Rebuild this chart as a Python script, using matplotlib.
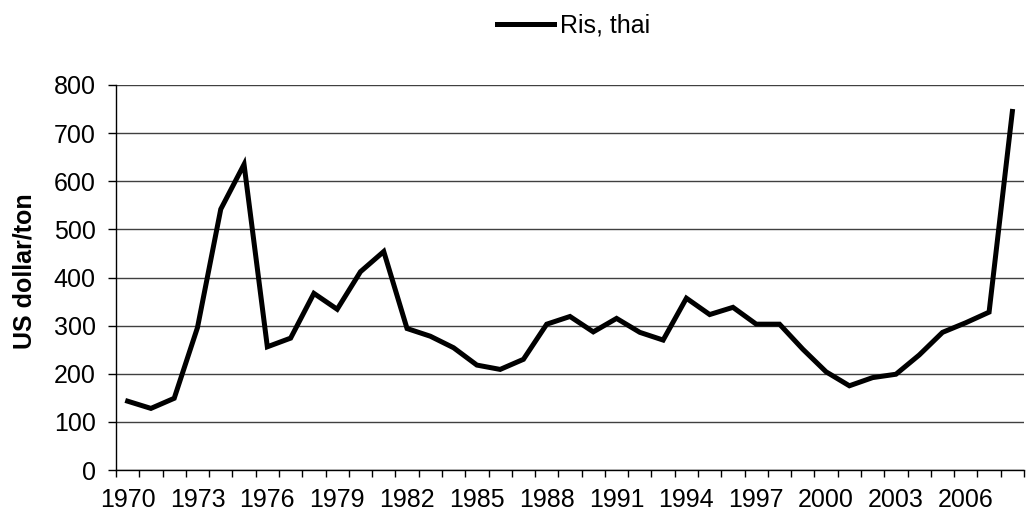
import matplotlib.pyplot as plt
import numpy as np

plt.rcParams['font.family'] = ['Liberation Sans', 'DejaVu Sans']

# Thai rice export price, US dollar per ton
years = list(range(1970, 2009))
prices = [143, 128, 149, 296, 542, 635, 256, 274, 367, 334,
          412, 454, 294, 278, 254, 218, 209, 230, 303, 319,
          287, 315, 286, 270, 357, 323, 338, 303, 303, 251,
          204, 175, 192, 199, 239, 286, 306, 328, 745]
series_name = 'Ris, thai'
y_label = 'US dollar/ton'

fig = plt.figure(figsize=(10.26, 5.15), dpi=100)
ax = fig.add_axes([116 / 1026, 45 / 515, 908 / 1026, 385 / 515])

x = np.arange(len(years))
ax.plot(x, prices, color='black', linewidth=3.6, solid_joinstyle='miter', label=series_name)

ax.set_xlim(-0.5, len(years) - 0.5)
ax.set_ylim(0, 800)
ax.set_yticks(range(0, 801, 100))
ax.grid(axis='y', color='#404040', linewidth=1)
ax.set_axisbelow(True)

# category axis: tick marks between categories, label every third year
ax.set_xticks(np.arange(len(years) + 1) - 0.5, minor=True)
ax.set_xticks(x[::3])
ax.set_xticklabels([str(y) for y in years[::3]])
ax.tick_params(axis='x', which='major', length=0, pad=13, labelsize=18)
ax.tick_params(axis='x', which='minor', length=5, width=1, direction='out')
ax.tick_params(axis='y', length=5.5, width=1, direction='out', labelsize=18, pad=9)

for side in ['top', 'right']:
    ax.spines[side].set_visible(False)
for side in ['left', 'bottom']:
    ax.spines[side].set_linewidth(1)

ax.set_ylabel(y_label, fontsize=18, fontweight='bold')
ax.yaxis.set_label_coords(-0.088, 0.517)

fig.legend(loc='center', bbox_to_anchor=(0.559, 0.95), frameon=False, fontsize=18,
           handlelength=2.3, handletextpad=0.25)

plt.savefig('out.png', dpi=100)
